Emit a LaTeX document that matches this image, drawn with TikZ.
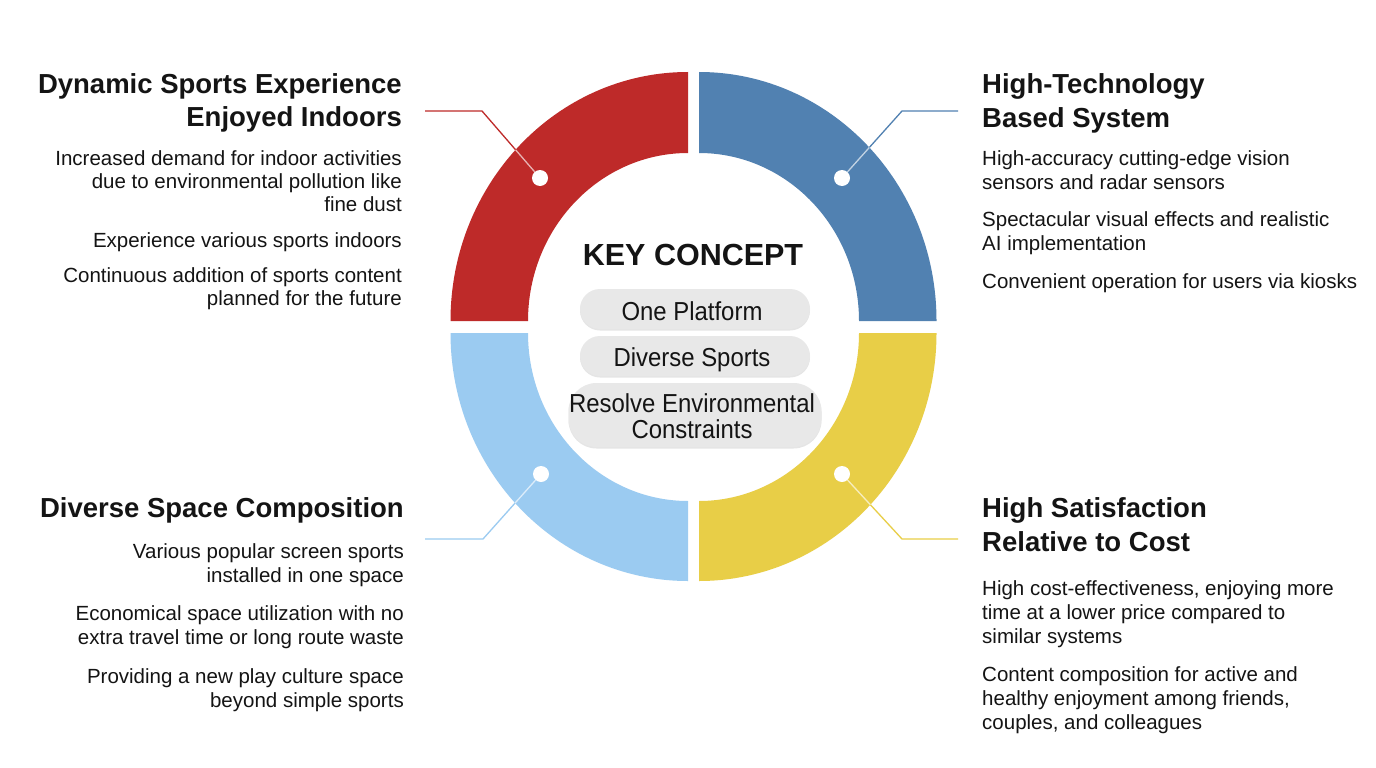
\documentclass[tikz,border=0pt]{standalone}
\usepackage{fontspec}
\setmainfont{Liberation Sans}
\newfontfamily\pillfont[FakeStretch=0.92]{Liberation Sans}
\usetikzlibrary{shadows}
\definecolor{cred}{HTML}{BE2A29}
\definecolor{cblue}{HTML}{5181B1}
\definecolor{clblue}{HTML}{9BCBF1}
\definecolor{cyellow}{HTML}{E8CE47}
\definecolor{pillgray}{HTML}{E8E8E8}
\definecolor{txt}{HTML}{141414}
\begin{document}
\begin{tikzpicture}[x=1pt,y=-1pt,
  titletxt/.style={font=\fontsize{27.5}{32}\selectfont\bfseries, text=txt, inner sep=0pt},
  bodytxt/.style={font=\fontsize{20.5}{23}\selectfont, text=txt, inner sep=0pt},
  lefttxt/.style={anchor=base east},
  righttxt/.style={anchor=base west},
  pillbox/.style={fill=pillgray, rounded corners=20pt, inner sep=0pt,
    drop shadow={shadow xshift=0pt, shadow yshift=-1.5pt, opacity=0.10, fill=black}},
  pilltxt/.style={font=\pillfont\fontsize{26}{27}\selectfont, text=txt, inner sep=0pt, anchor=base},
  keytxt/.style={font=\fontsize{30.5}{32}\selectfont\bfseries, text=txt, inner sep=0pt, anchor=base},
  dotnode/.style={circle, fill=white, minimum size=16pt, inner sep=0pt},
  conn/.style={line width=1.3pt, line join=round},
  innerconn/.style={line width=1.3pt, white, opacity=0.65},
]
\useasboundingbox (0,0) rectangle (1376,768);
\fill[white] (0,0) rectangle (1376,768);

% ring quadrants
\fill[cred] (528,321) -- (450.5,321) arc[start angle=180, end angle=270, x radius=237.5, y radius=249]
  -- (688,153) arc[start angle=270, end angle=180, x radius=160, y radius=168] -- cycle;
\fill[cblue] (699,153) -- (699,72) arc[start angle=270, end angle=360, x radius=237.5, y radius=249]
  -- (859,321) arc[start angle=360, end angle=270, x radius=160, y radius=168] -- cycle;
\fill[clblue] (528,333) -- (450.5,333) arc[start angle=180, end angle=90, x radius=237.5, y radius=248]
  -- (688,501) arc[start angle=90, end angle=180, x radius=160, y radius=168] -- cycle;
\fill[cyellow] (699,501) -- (699,581) arc[start angle=90, end angle=0, x radius=237.5, y radius=248]
  -- (859,333) arc[start angle=0, end angle=90, x radius=160, y radius=168] -- cycle;

% dots
\node[dotnode] (d1) at (540,178) {};
\node[dotnode] (d2) at (842,178) {};
\node[dotnode] (d3) at (541,474) {};
\node[dotnode] (d4) at (842,474) {};

% connector points
\coordinate (e1) at (425,111); \coordinate (b1) at (482,111);
\coordinate (e2) at (958,111); \coordinate (b2) at (902,111);
\coordinate (e3) at (425,539); \coordinate (b3) at (483,539);
\coordinate (e4) at (958,539); \coordinate (b4) at (902,539);

\draw[conn, cred] (e1) -- (b1) -- (d1);
\draw[conn, cblue] (e2) -- (b2) -- (d2);
\draw[conn, clblue] (e3) -- (b3) -- (d3);
\draw[conn, cyellow] (e4) -- (b4) -- (d4);

% lighter part of connectors inside the ring
\begin{scope}
\clip (528,321) -- (450.5,321) arc[start angle=180, end angle=270, x radius=237.5, y radius=249]
  -- (688,153) arc[start angle=270, end angle=180, x radius=160, y radius=168] -- cycle;
\draw[innerconn] (b1) -- (d1);
\end{scope}
\begin{scope}
\clip (699,153) -- (699,72) arc[start angle=270, end angle=360, x radius=237.5, y radius=249]
  -- (859,321) arc[start angle=360, end angle=270, x radius=160, y radius=168] -- cycle;
\draw[innerconn] (b2) -- (d2);
\end{scope}
\begin{scope}
\clip (528,333) -- (450.5,333) arc[start angle=180, end angle=90, x radius=237.5, y radius=248]
  -- (688,501) arc[start angle=90, end angle=180, x radius=160, y radius=168] -- cycle;
\draw[innerconn] (b3) -- (d3);
\end{scope}
\begin{scope}
\clip (699,501) -- (699,581) arc[start angle=90, end angle=0, x radius=237.5, y radius=248]
  -- (859,333) arc[start angle=0, end angle=90, x radius=160, y radius=168] -- cycle;
\draw[innerconn] (b4) -- (d4);
\end{scope}

% center
\node[keytxt] (key) at (693,265) {KEY CONCEPT};
\node[pillbox, minimum width=230pt, minimum height=40pt] (p1) at (695,309) {};
\node[pillbox, minimum width=230pt, minimum height=40pt] (p2) at (695,356) {};
\node[pillbox, minimum width=253pt, minimum height=64pt, rounded corners=28pt] (p3) at (695,415) {};
\node[pilltxt] (t1) at (692,320) {One Platform};
\node[pilltxt] (t2) at (692,366) {Diverse Sports};
\node[pilltxt] (t3a) at (692,412.5) {Resolve Environmental};
\node[pilltxt] (t3b) at (692,438.5) {Constraints};

% top-left
\node[titletxt, lefttxt] (tl1) at (402,93) {Dynamic Sports Experience};
\node[titletxt, lefttxt] (tl2) at (402,126) {Enjoyed Indoors};
\node[bodytxt, lefttxt] (tlb1) at (402,165) {Increased demand for indoor activities};
\node[bodytxt, lefttxt] (tlb2) at (402,188) {due to environmental pollution like};
\node[bodytxt, lefttxt] (tlb3) at (402,211) {fine dust};
\node[bodytxt, lefttxt] (tlb4) at (402,247) {Experience various sports indoors};
\node[bodytxt, lefttxt] (tlb5) at (402,282) {Continuous addition of sports content};
\node[bodytxt, lefttxt] (tlb6) at (402,305) {planned for the future};

% top-right
\node[titletxt, righttxt] (tr1) at (982,93) {High-Technology};
\node[titletxt, righttxt] (tr2) at (982,127) {Based System};
\node[bodytxt, righttxt] (trb1) at (982,165) {High-accuracy cutting-edge vision};
\node[bodytxt, righttxt] (trb2) at (982,189) {sensors and radar sensors};
\node[bodytxt, righttxt] (trb3) at (982,226) {Spectacular visual effects and realistic};
\node[bodytxt, righttxt] (trb4) at (982,250) {AI implementation};
\node[bodytxt, righttxt] (trb5) at (982,288) {Convenient operation for users via kiosks};

% bottom-left
\node[titletxt, lefttxt] (bl1) at (404,517) {Diverse Space Composition};
\node[bodytxt, lefttxt] (blb1) at (404,558) {Various popular screen sports};
\node[bodytxt, lefttxt] (blb2) at (404,582) {installed in one space};
\node[bodytxt, lefttxt] (blb3) at (404,620) {Economical space utilization with no};
\node[bodytxt, lefttxt] (blb4) at (404,644) {extra travel time or long route waste};
\node[bodytxt, lefttxt] (blb5) at (404,683) {Providing a new play culture space};
\node[bodytxt, lefttxt] (blb6) at (404,707) {beyond simple sports};

% bottom-right
\node[titletxt, righttxt] (br1) at (982,517) {High Satisfaction};
\node[titletxt, righttxt] (br2) at (982,551) {Relative to Cost};
\node[bodytxt, righttxt] (brb1) at (982,595) {High cost-effectiveness, enjoying more};
\node[bodytxt, righttxt] (brb2) at (982,619) {time at a lower price compared to};
\node[bodytxt, righttxt] (brb3) at (982,643) {similar systems};
\node[bodytxt, righttxt] (brb4) at (982,681) {Content composition for active and};
\node[bodytxt, righttxt] (brb5) at (982,705) {healthy enjoyment among friends,};
\node[bodytxt, righttxt] (brb6) at (982,729) {couples, and colleagues};
\end{tikzpicture}
\end{document}
